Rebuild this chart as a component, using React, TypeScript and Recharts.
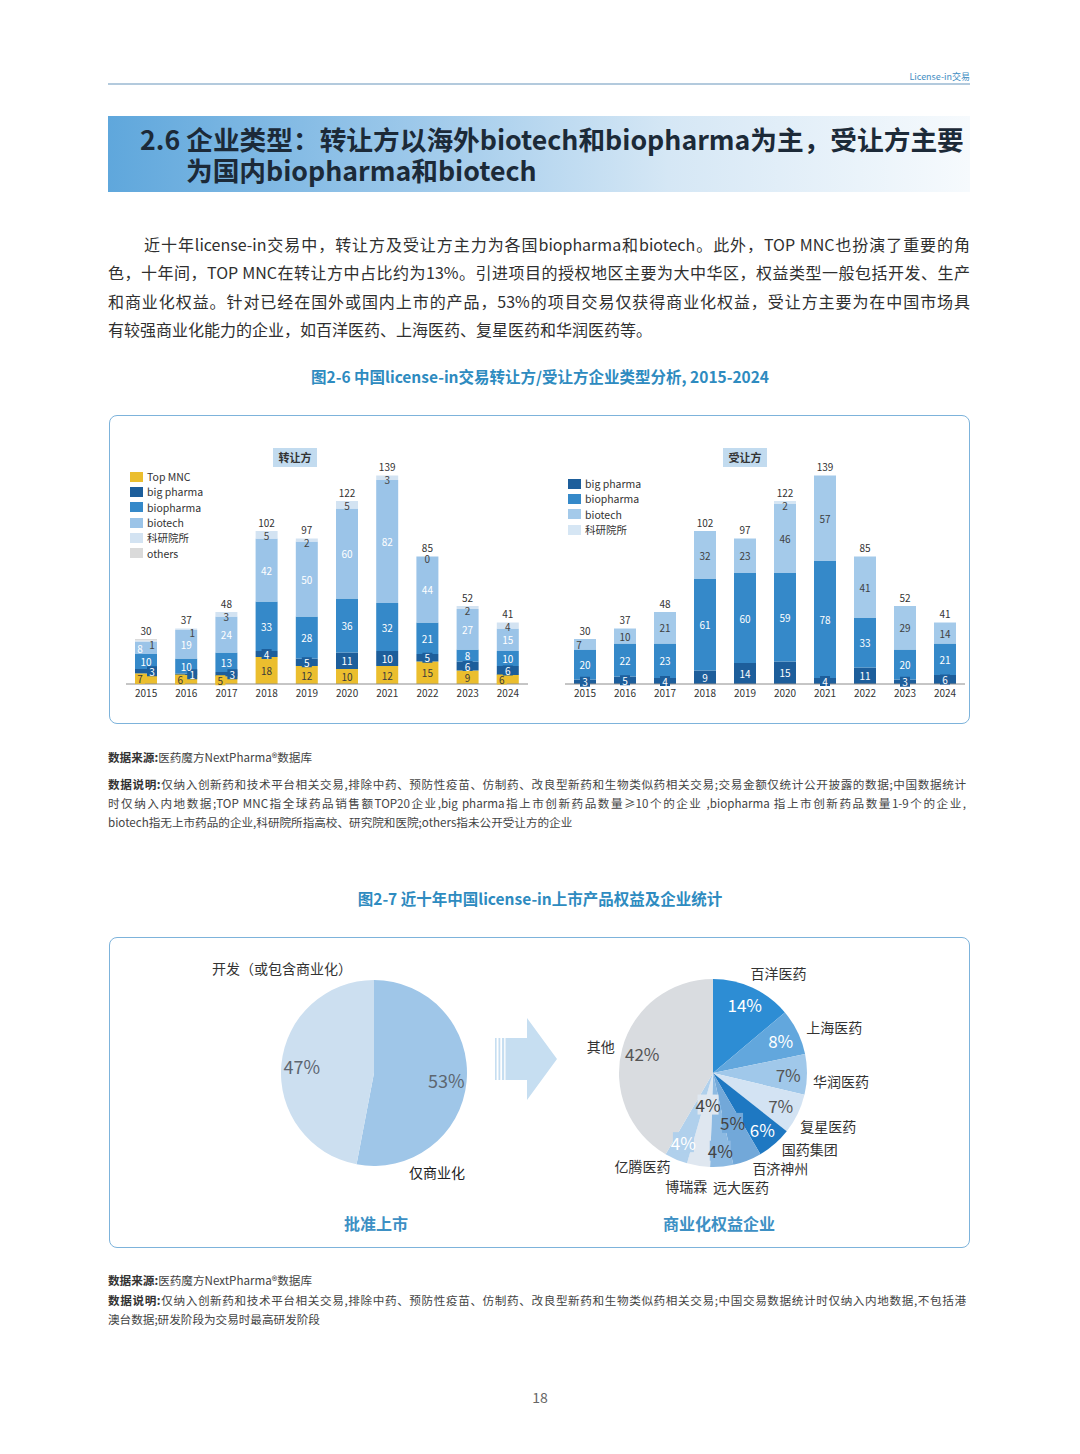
import type { CSSProperties, ReactNode } from "react"
import { Bar, BarChart, Cell, LabelList, Pie, PieChart, XAxis, YAxis } from "recharts"

const FONT = '"Noto Sans CJK SC", "Noto Sans", sans-serif'

const years = ["2015", "2016", "2017", "2018", "2019", "2020", "2021", "2022", "2023", "2024"]

// 转让方
const sellerTopMnc = [7, 6, 5, 18, 12, 10, 12, 15, 9, 6]
const sellerBigPharma = [3, 1, 3, 4, 5, 11, 10, 5, 6, 6]
const sellerBiopharma = [10, 10, 13, 33, 28, 36, 32, 21, 8, 10]
const sellerBiotech = [8, 19, 24, 42, 50, 60, 82, 44, 27, 15]
const sellerInstitute = [1, 1, 3, 5, 2, 5, 3, 0, 2, 4]
const sellerOthers = [1, 0, 0, 0, 0, 0, 0, 0, 0, 0]

// 受让方
const buyerBigPharma = [3, 5, 4, 9, 14, 15, 4, 11, 3, 6]
const buyerBiopharma = [20, 22, 23, 61, 60, 59, 78, 33, 20, 21]
const buyerBiotech = [7, 10, 21, 32, 23, 46, 57, 41, 29, 14]
const buyerInstitute = [0, 0, 0, 0, 0, 2, 0, 0, 0, 0]

// 批准上市 权益
const rightsNames = ["仅商业化", "开发（或包含商业化）"]
const rightsShares = [53, 47]

// 商业化权益企业
const companyNames = ["百洋医药", "上海医药", "华润医药", "复星医药", "国药集团", "百济神州", "远大医药", "博瑞霖", "亿腾医药", "其他"]
const companyShares = [14, 8, 7, 7, 6, 5, 4, 4, 4, 42]

type Series = { key: string; name: string; color: string; text: string; values: number[]; showZero?: boolean; noLabel?: boolean }

const sellerSeries: Series[] = [
  { key: "topMnc", name: "Top MNC", color: "#EBBE2E", text: "#3a3a3a", values: sellerTopMnc },
  { key: "bigPharma", name: "big pharma", color: "#1D5E9B", text: "#ffffff", values: sellerBigPharma },
  { key: "biopharma", name: "biopharma", color: "#3589C9", text: "#ffffff", values: sellerBiopharma },
  { key: "biotech", name: "biotech", color: "#9BC4E8", text: "#ffffff", values: sellerBiotech },
  { key: "institute", name: "科研院所", color: "#D3E3F2", text: "#444444", values: sellerInstitute, showZero: true },
  { key: "others", name: "others", color: "#DADADA", text: "#444444", values: sellerOthers, noLabel: true },
]

const buyerSeries: Series[] = [
  { key: "bigPharma", name: "big pharma", color: "#1D5E9B", text: "#ffffff", values: buyerBigPharma },
  { key: "biopharma", name: "biopharma", color: "#3589C9", text: "#ffffff", values: buyerBiopharma },
  { key: "biotech", name: "biotech", color: "#A4CAEA", text: "#3f3f3f", values: buyerBiotech },
  { key: "institute", name: "科研院所", color: "#D6E6F4", text: "#444444", values: buyerInstitute },
]

const rightsColors = ["#9FC6E8", "#CCDFF0"]
const companyColors = ["#2D8DD4", "#62A7DD", "#A0C8EA", "#D3E3F3", "#1E78C2", "#72A8D9", "#8DBAE2", "#DFE7F0", "#B0D0EC", "#D9DCE0"]
const companyTextColors = ["#fff", "#fff", "#555", "#555", "#fff", "#444", "#444", "#444", "#fff", "#555"]
// how deep into the slice each percentage sits (share of radius)
const companyLabelDepth = [0.8, 0.8, 0.8, 0.8, 0.8, 0.57, 0.83, 0.34, 0.8, 0.78]
const companyNameNudge = [
  [-8, -2], [-4, 1], [-8, 6], [-10, 6], [-2, -6], [0, -6], [18, 6], [-10, 6], [0, -6], [6, 1],
]

const RAD = Math.PI / 180

function StackChart({ series, left, width }: { series: Series[]; left: number; width: number }) {
  const rows = years.map((year, i) => {
    const row: Record<string, any> = { year }
    let total = 0
    series.forEach((s) => {
      row[s.key] = s.values[i]
      total += s.values[i]
    })
    row.total = total
    return row
  })

  // nudge thin neighbouring labels sideways so they don't sit on top of each other
  const sideShift = (si: number, year: string) => {
    const i = years.indexOf(year)
    const cur = series[si]?.values[i] ?? 0
    const above = series[si + 1]?.values[i]
    const below = series[si - 1]?.values[i]
    if (si > 0 && cur <= 3 && below !== undefined && below <= 8) return 6
    if (above !== undefined && above <= 3 && cur <= 8 && !series[si + 1].noLabel) return -6
    return 0
  }

  const segLabel = (s: Series, si: number) => (p: any) => {
    if (s.noLabel) return null
    const vb = p.viewBox || p
    const { x, y, width: w, height: h } = vb
    const v = Number(p.value)
    if (!(v > 0)) return null
    const entry = p.payload ?? rows.find((r) => r[s.key] === v)
    const dx = entry ? sideShift(si, entry.year) : 0
    const cx = x + w / 2 + dx
    const cy = s.key === "institute" ? y + 4 : y + Math.max(h, 0) / 2
    const tw = String(v).length * 6 + 4
    return (
      <g key={`${s.key}-${p.index}`}>
        {h < 12 && s.key !== "institute" && (
          <rect x={cx - tw / 2} y={cy - 5} width={tw} height={10} fill={s.color} />
        )}
        <text x={cx} y={cy} textAnchor="middle" dominantBaseline="central" fontSize={10} fill={s.text} fontFamily={FONT}>
          {v}
        </text>
      </g>
    )
  }

  const totalLabel = (p: any) => {
    const vb = p.viewBox || p
    const { x, y, width: w } = vb
    const total = Number(p.value)
    const row = rows[p.index] && rows[p.index].total === total ? rows[p.index] : rows.find((r) => r.total === total)
    const zeros = series.filter((s) => s.showZero && row && row[s.key] === 0)
    return (
      <g key={`t-${p.index}`}>
        <text x={x + w / 2} y={y - 9} textAnchor="middle" dominantBaseline="central" fontSize={10} fill="#333" fontFamily={FONT}>
          {total}
        </text>
        {zeros.map((s) => (
          <text key={s.key} x={x + w / 2} y={y + 2} textAnchor="middle" dominantBaseline="central" fontSize={10} fill={s.text} fontFamily={FONT}>
            0
          </text>
        ))}
      </g>
    )
  }

  return (
    <div style={{ position: "absolute", left, top: 439 }}>
      <BarChart width={width} height={265} data={rows} margin={{ top: 20, right: 0, bottom: 0, left: 0 }} style={{ overflow: "visible" }}>
        <XAxis
          dataKey="year"
          height={20}
          tickLine={false}
          tickSize={4}
          axisLine={{ stroke: "#8c8c8c" }}
          tick={{ fontSize: 10, fill: "#333", fontFamily: FONT }}
          interval={0}
        />
        <XAxis xAxisId="cap" dataKey="year" hide />
        <YAxis hide domain={[0, 150]} />
        {series.map((s, si) => (
          <Bar key={s.key} dataKey={s.key} stackId="a" fill={s.color} barSize={22} isAnimationActive={false}>
            <LabelList dataKey={s.key} content={segLabel(s, si)} />
          </Bar>
        ))}
        <Bar xAxisId="cap" dataKey="total" fill="transparent" barSize={22} isAnimationActive={false}>
          <LabelList dataKey="total" content={totalLabel} />
        </Bar>
      </BarChart>
    </div>
  )
}

function Legend({ series, left, top, step }: { series: Series[]; left: number; top: number; step: number }) {
  return (
    <div style={{ position: "absolute", left, top }}>
      {series.map((s) => (
        <div key={s.key} style={{ display: "flex", alignItems: "center", height: step }}>
          <div style={{ width: 13, height: 10, background: s.color, marginRight: 4 }} />
          <span style={{ fontSize: 10.5, color: "#333", fontFamily: FONT }}>{s.name}</span>
        </div>
      ))}
    </div>
  )
}

const Tag = ({ left, text }: { left: number; text: string }) => (
  <div
    style={{
      position: "absolute", left, top: 448, width: 44, height: 19, background: "#C2DBEF",
      fontSize: 11, fontWeight: 700, color: "#333", textAlign: "center", lineHeight: "19px",
    }}
  >
    {text}
  </div>
)

const rightsLabel = (p: any) => {
  const { cx, cy, midAngle, outerRadius, index, value } = p
  const x = cx + outerRadius * 0.78 * Math.cos(-midAngle * RAD)
  const y = cy + outerRadius * 0.78 * Math.sin(-midAngle * RAD)
  return (
    <text key={`r-${index}`} x={x} y={y} textAnchor="middle" dominantBaseline="central" fontSize={18} fill="#5d6670" fontFamily={FONT}>
      {value}%
    </text>
  )
}

const companyLabel = (p: any) => {
  const { cx, cy, midAngle, outerRadius, index, value } = p
  const cos = Math.cos(-midAngle * RAD)
  const sin = Math.sin(-midAngle * RAD)
  const d = companyLabelDepth[index]
  const px = cx + outerRadius * d * cos
  const py = cy + outerRadius * d * sin
  const R = outerRadius + 14
  const [dx, dy] = companyNameNudge[index]
  const nx = cx + R * cos + dx
  const ny = cy + R * sin + dy
  const anchor = Math.abs(cos) < 0.2 ? "middle" : cos > 0 ? "start" : "end"
  const txt = `${value}%`
  const boxed = index >= 5 && index <= 8
  const tw = txt.length * 9.5 + 2
  return (
    <g key={`c-${index}`}>
      {boxed && <rect x={px - tw / 2} y={py - 10} width={tw} height={20} fill={companyColors[index]} />}
      <text x={px} y={py} textAnchor="middle" dominantBaseline="central" fontSize={17} fill={companyTextColors[index]} fontFamily={FONT}>
        {txt}
      </text>
      <text x={nx} y={ny} textAnchor={anchor} dominantBaseline="central" fontSize={14} fill="#333" fontFamily={FONT}>
        {companyNames[index]}
      </text>
    </g>
  )
}

const line = (text: ReactNode, extra: CSSProperties = {}) => (
  <div style={{ textAlign: "justify", textAlignLast: "justify", ...extra }}>{text}</div>
)

const NoteHead = ({ children }: { children: ReactNode }) => <b style={{ color: "#333" }}>{children}</b>

export default function App() {
  const rightsData = rightsNames.map((name, i) => ({ name, value: rightsShares[i] }))
  const companyData = companyNames.map((name, i) => ({ name, value: companyShares[i] }))
  const noMargin = { top: 0, right: 0, bottom: 0, left: 0 }

  return (
    <div style={{ position: "absolute", left: 0, top: 0, width: 1080, height: 1454, background: "#fff", fontFamily: FONT, color: "#333", overflow: "hidden" }}>
      {/* running header */}
      <div style={{ position: "absolute", left: 880, top: 70, width: 90, textAlign: "right", fontSize: 9, color: "#3f8dc2" }}>License-in交易</div>
      <div style={{ position: "absolute", left: 108, top: 83, width: 862, height: 1.5, background: "#B3CADD" }} />

      {/* section title */}
      <div
        style={{
          position: "absolute", left: 108, top: 116, width: 862, height: 76,
          background: "linear-gradient(to right, #5FA7DC 0%, #9CC8EA 35%, #D5E7F5 65%, #F6FAFD 100%)",
        }}
      />
      <div style={{ position: "absolute", left: 140, top: 123, fontSize: 26.7, fontWeight: 700, lineHeight: "31px", color: "#1c2a38", whiteSpace: "nowrap" }}>
        <div>2.6 企业类型：转让方以海外biotech和biopharma为主，受让方主要</div>
        <div style={{ paddingLeft: 46 }}>为国内biopharma和biotech</div>
      </div>

      {/* body paragraph */}
      <div style={{ position: "absolute", left: 108, top: 230, width: 862, fontSize: 16, lineHeight: "28.4px", color: "#2f2f2f" }}>
        {line("近十年license-in交易中，转让方及受让方主力为各国biopharma和biotech。此外，TOP  MNC也扮演了重要的角", { paddingLeft: 36 })}
        {line("色，十年间，TOP MNC在转让方中占比约为13%。引进项目的授权地区主要为大中华区，权益类型一般包括开发、生产")}
        {line("和商业化权益。针对已经在国外或国内上市的产品，53%的项目交易仅获得商业化权益，受让方主要为在中国市场具")}
        <div>有较强商业化能力的企业，如百洋医药、上海医药、复星医药和华润医药等。</div>
      </div>

      {/* figure 2-6 */}
      <div style={{ position: "absolute", left: 0, top: 365, width: 1080, textAlign: "center", fontSize: 15.5, fontWeight: 700, color: "#2E8BC0" }}>
        图2-6 中国license-in交易转让方/受让方企业类型分析, 2015-2024
      </div>
      <div style={{ position: "absolute", left: 109, top: 415, width: 859, height: 307, border: "1.3px solid #7DB3DB", borderRadius: 8 }} />

      <Tag left={273} text="转让方" />
      <Tag left={723} text="受让方" />
      <Legend series={sellerSeries} left={130} top={469} step={15.3} />
      <Legend series={buyerSeries} left={568} top={476} step={15.3} />
      <StackChart series={sellerSeries} left={126} width={402} />
      <StackChart series={buyerSeries} left={565} width={400} />

      {/* notes 2-6 */}
      <div style={{ position: "absolute", left: 108, top: 748, width: 858, fontSize: 11.6, lineHeight: "19px", color: "#444" }}>
        <div><NoteHead>数据来源:</NoteHead>医药魔方NextPharma®数据库</div>
        <div style={{ height: 8 }} />
        {line(<><NoteHead>数据说明:</NoteHead>仅纳入创新药和技术平台相关交易,排除中药、预防性疫苗、仿制药、改良型新药和生物类似药相关交易;交易金额仅统计公开披露的数据;中国数据统计</>)}
        {line("时仅纳入内地数据;TOP MNC指全球药品销售额TOP20企业,big pharma指上市创新药品数量≥10个的企业 ,biopharma 指上市创新药品数量1-9个的企业,")}
        <div>biotech指无上市药品的企业,科研院所指高校、研究院和医院;others指未公开受让方的企业</div>
      </div>

      {/* figure 2-7 */}
      <div style={{ position: "absolute", left: 0, top: 887, width: 1080, textAlign: "center", fontSize: 15.5, fontWeight: 700, color: "#2E8BC0" }}>
        图2-7 近十年中国license-in上市产品权益及企业统计
      </div>
      <div style={{ position: "absolute", left: 109, top: 937, width: 859, height: 309, border: "1.3px solid #7DB3DB", borderRadius: 8 }} />

      <div style={{ position: "absolute", left: 254, top: 953 }}>
        <PieChart width={240} height={240} margin={noMargin}>
          <Pie
            data={rightsData}
            dataKey="value"
            cx={120}
            cy={120}
            outerRadius={93}
            startAngle={90}
            endAngle={-270}
            stroke="none"
            labelLine={false}
            label={rightsLabel}
            isAnimationActive={false}
          >
            {rightsData.map((d, i) => (
              <Cell key={d.name} fill={rightsColors[i]} />
            ))}
          </Pie>
        </PieChart>
      </div>
      <div style={{ position: "absolute", left: 212, top: 958, fontSize: 14, color: "#333" }}>开发（或包含商业化）</div>
      <div style={{ position: "absolute", left: 409, top: 1162, fontSize: 14, color: "#222" }}>仅商业化</div>
      <div style={{ position: "absolute", left: 326, top: 1211, width: 100, textAlign: "center", fontSize: 16, fontWeight: 700, color: "#3D90C4" }}>批准上市</div>

      {/* arrow */}
      <svg style={{ position: "absolute", left: 490, top: 1015 }} width={70} height={90}>
        <rect x={5} y={23} width={1.6} height={42} fill="#C6DEF1" />
        <rect x={8.5} y={23} width={1.8} height={42} fill="#C6DEF1" />
        <rect x={12} y={23} width={2.2} height={42} fill="#C6DEF1" />
        <polygon points="15.5,23 37,23 37,3 67,44 37,85 37,65 15.5,65" fill="#C6DEF1" />
      </svg>

      <div style={{ position: "absolute", left: 543, top: 943 }}>
        <PieChart width={340} height={260} margin={noMargin} style={{ overflow: "visible" }}>
          <Pie
            data={companyData}
            dataKey="value"
            cx={170}
            cy={130}
            outerRadius={94}
            startAngle={90}
            endAngle={-270}
            stroke="none"
            labelLine={false}
            label={companyLabel}
            isAnimationActive={false}
          >
            {companyData.map((d, i) => (
              <Cell key={d.name} fill={companyColors[i]} />
            ))}
          </Pie>
        </PieChart>
      </div>
      <div style={{ position: "absolute", left: 639, top: 1211, width: 160, textAlign: "center", fontSize: 16, fontWeight: 700, color: "#3D90C4" }}>商业化权益企业</div>

      {/* notes 2-7 */}
      <div style={{ position: "absolute", left: 108, top: 1271, width: 858, fontSize: 11.6, lineHeight: "19.5px", color: "#444" }}>
        <div><NoteHead>数据来源:</NoteHead>医药魔方NextPharma®数据库</div>
        {line(<><NoteHead>数据说明:</NoteHead>仅纳入创新药和技术平台相关交易,排除中药、预防性疫苗、仿制药、改良型新药和生物类似药相关交易;中国交易数据统计时仅纳入内地数据,不包括港</>)}
        <div>澳台数据;研发阶段为交易时最高研发阶段</div>
      </div>

      <div style={{ position: "absolute", left: 0, top: 1387, width: 1080, textAlign: "center", fontSize: 14, color: "#666" }}>18</div>
    </div>
  )
}
